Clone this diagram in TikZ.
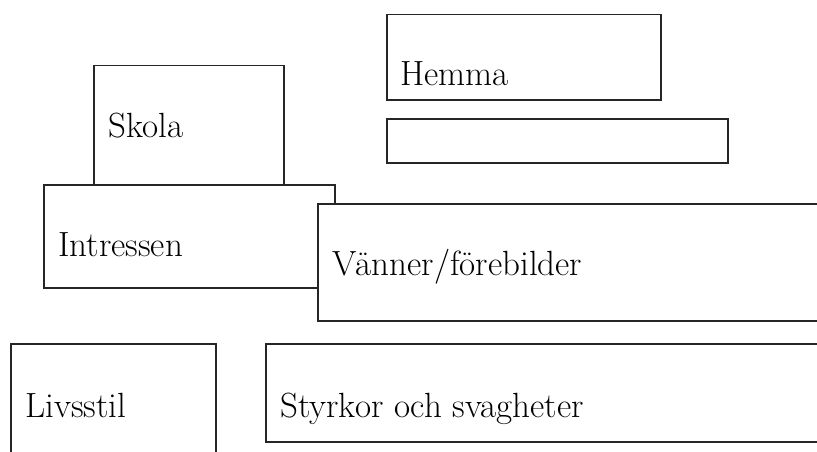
\documentclass[tikz,border=0pt]{standalone}
\usepackage{fontspec}
\setmainfont{Latin Modern Roman}
\usepackage{tikz}

\tikzset{
    box/.style={draw=black!85, fill=white, line width=1.5pt, inner sep=0pt, anchor=north west},
    lbl/.style={anchor=base west, inner sep=0pt, font=\fontsize{35}{40}\selectfont}
}

\begin{document}
\begin{tikzpicture}[x=1pt, y=-1pt]
    \useasboundingbox (0, 0) rectangle (817, 452);
    \clip (0, 0) rectangle (817, 452);
    % top right
    \node [box, minimum width=274pt, minimum height=85pt] (hemmabox) at (386, 14) {};
    \node [lbl] (hemma) at (400, 85) {Hemma};
    \node [box, minimum width=341pt, minimum height=44pt] (tombox) at (386, 118) {};
    % stacked boxes
    \node [box, minimum width=190pt, minimum height=120pt] (skolabox) at (93, 65) {};
    \node [lbl] (skola) at (108, 137) {Skola};
    \node [box, minimum width=291pt, minimum height=103pt] (intrbox) at (43, 184) {};
    \node [lbl] (intr) at (58, 256) {Intressen};
    \node [box, minimum width=520pt, minimum height=117pt] (vanbox) at (317, 203) {};
    \node [lbl] (van) at (332, 275) {Vänner/förebilder};
    % bottom row
    \node [box, minimum width=205pt, minimum height=130pt] (livbox) at (10, 343) {};
    \node [lbl] (liv) at (25, 417) {Livsstil};
    \node [box, minimum width=570pt, minimum height=98pt] (styrbox) at (265, 343) {};
    \node [lbl] (styr) at (280, 417) {Styrkor och svagheter};
\end{tikzpicture}
\end{document}
